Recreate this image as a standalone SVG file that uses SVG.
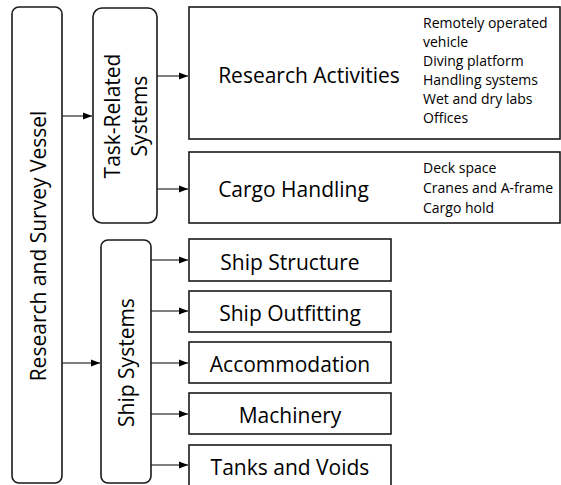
<svg xmlns="http://www.w3.org/2000/svg" width="561" height="485" viewBox="0 0 561 485">
<defs>
<style>
.box{fill:#fff;stroke:#1a1a1a;stroke-width:1.6}
.t{font-family:"Open Sans","Noto Sans",sans-serif;fill:#000}
.big{font-size:21px}
.sm{font-size:14px}
.c{stroke:#000;stroke-width:1;fill:none}
</style>
<marker id="ah" viewBox="0 0 10 10" refX="10" refY="5" markerWidth="9" markerHeight="9" markerUnits="userSpaceOnUse" orient="auto">
<path d="M0,1 L10,5 L0,9 Z" fill="#000"/>
</marker>
</defs>
<rect width="561" height="485" fill="#fff"/>
<g id="connectors">
<path class="c" d="M62,116 H92" marker-end="url(#ah)"/>
<path class="c" d="M62,363 H100" marker-end="url(#ah)"/>
<path class="c" d="M157,76 H188" marker-end="url(#ah)"/>
<path class="c" d="M157,189 H188" marker-end="url(#ah)"/>
<path class="c" d="M151,260 H188" marker-end="url(#ah)"/>
<path class="c" d="M151,311 H188" marker-end="url(#ah)"/>
<path class="c" d="M151,363 H188" marker-end="url(#ah)"/>
<path class="c" d="M151,414 H188" marker-end="url(#ah)"/>
<path class="c" d="M151,465 H188" marker-end="url(#ah)"/>
</g>
<g id="vessel">
<rect class="box" x="12" y="7" width="50" height="476" rx="7"/>
<text class="t big" transform="translate(45.5,246) rotate(-90)" text-anchor="middle">Research and Survey Vessel</text>
</g>
<g id="task">
<rect class="box" x="93" y="8" width="64" height="215" rx="9"/>
<text class="t big" transform="translate(119.5,116) rotate(-90)" text-anchor="middle">Task-Related</text>
<text class="t big" transform="translate(146.5,116) rotate(-90)" text-anchor="middle">Systems</text>
</g>
<g id="ship">
<rect class="box" x="101" y="240" width="50" height="243" rx="7"/>
<text class="t big" transform="translate(133.5,362.5) rotate(-90)" text-anchor="middle">Ship Systems</text>
</g>
<g id="research">
<rect class="box" x="189" y="7" width="371" height="132"/>
<text class="t big" x="309" y="83" text-anchor="middle">Research Activities</text>
<text class="t sm" x="423" y="28">Remotely operated</text>
<text class="t sm" x="423" y="47">vehicle</text>
<text class="t sm" x="423" y="66">Diving platform</text>
<text class="t sm" x="423" y="85">Handling systems</text>
<text class="t sm" x="423" y="104">Wet and dry labs</text>
<text class="t sm" x="423" y="123">Offices</text>
</g>
<g id="cargo">
<rect class="box" x="189" y="152" width="371" height="71"/>
<text class="t big" x="293.5" y="197" text-anchor="middle">Cargo Handling</text>
<text class="t sm" x="423" y="173">Deck space</text>
<text class="t sm" x="423" y="193">Cranes and A-frame</text>
<text class="t sm" x="423" y="213">Cargo hold</text>
</g>
<g id="structure">
<rect class="box" x="189" y="239" width="202" height="42"/>
<text class="t big" x="290" y="270" text-anchor="middle">Ship Structure</text>
</g>
<g id="outfitting">
<rect class="box" x="189" y="291" width="202" height="41"/>
<text class="t big" x="290" y="321" text-anchor="middle">Ship Outfitting</text>
</g>
<g id="accommodation">
<rect class="box" x="189" y="342" width="202" height="41"/>
<text class="t big" x="290" y="372" text-anchor="middle">Accommodation</text>
</g>
<g id="machinery">
<rect class="box" x="189" y="393" width="202" height="41"/>
<text class="t big" x="290" y="423" text-anchor="middle">Machinery</text>
</g>
<g id="tanks">
<rect class="box" x="189" y="445" width="202" height="42"/>
<text class="t big" x="290" y="475" text-anchor="middle">Tanks and Voids</text>
</g>
</svg>
